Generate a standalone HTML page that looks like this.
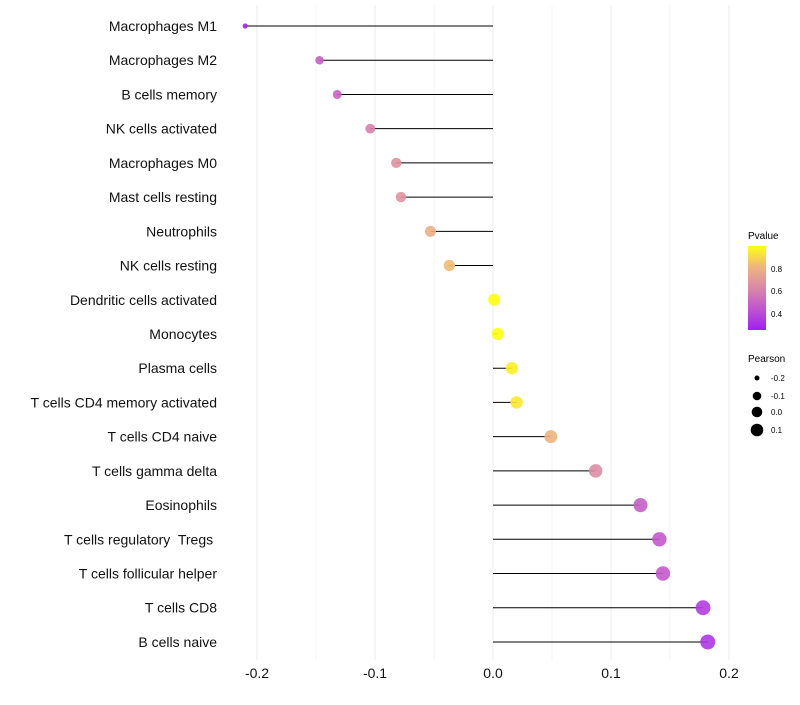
<!DOCTYPE html>
<html><head><meta charset="utf-8"><style>
body{margin:0;background:#fff;font-family:"Liberation Sans",sans-serif}
text{white-space:pre}
</style></head><body>
<svg id="chart" width="800" height="700" xmlns="http://www.w3.org/2000/svg">
<g id="grid"></g><g id="lines"></g><g id="pts"></g><g id="ylab"></g><g id="xlab"></g>
<g id="legend">
<defs><linearGradient id="pg" x1="0" y1="1" x2="0" y2="0">
<stop offset="0" stop-color="#a020f0"/><stop offset="0.25" stop-color="#c054d0"/><stop offset="0.5" stop-color="#da88a8"/><stop offset="0.75" stop-color="#eeb480"/><stop offset="1" stop-color="#ffff10"/></linearGradient></defs>
<text x="748" y="239" font-size="10">Pvalue</text>
<rect x="748" y="246" width="18" height="84" fill="url(#pg)"/>
<text x="771" y="272" font-size="8">0.8</text><text x="771" y="294" font-size="8">0.6</text><text x="771" y="317" font-size="8">0.4</text>
<text x="748" y="362" font-size="10">Pearson</text>
<circle cx="757" cy="378" r="2.5"/><circle cx="757" cy="396" r="4.3"/><circle cx="757" cy="412" r="5.3"/><circle cx="757" cy="430" r="6.3"/>
<text x="771" y="381" font-size="8">-0.2</text><text x="771" y="399" font-size="8">-0.1</text><text x="771" y="415" font-size="8">0.0</text><text x="771" y="433" font-size="8">0.1</text>
</g>
</svg>
<script>
const categories=["Macrophages M1","Macrophages M2","B cells memory","NK cells activated","Macrophages M0","Mast cells resting","Neutrophils","NK cells resting","Dendritic cells activated","Monocytes","Plasma cells","T cells CD4 memory activated","T cells CD4 naive","T cells gamma delta","Eosinophils","T cells regulatory  Tregs ","T cells follicular helper","T cells CD8","B cells naive"];
const pearson=[-0.210,-0.147,-0.132,-0.104,-0.082,-0.078,-0.053,-0.037,0.001,0.004,0.016,0.020,0.049,0.087,0.125,0.141,0.144,0.178,0.182];
const pvalue=[0.25,0.45,0.47,0.57,0.64,0.65,0.76,0.80,0.99,0.97,0.93,0.91,0.78,0.62,0.45,0.43,0.43,0.33,0.31];
const xticks=[-0.2,-0.1,0.0,0.1,0.2];
const x=v=>493+v*1180, y=i=>26+i*34.22;
const NS="http://www.w3.org/2000/svg";
function mk(t,a,p){const e=document.createElementNS(NS,t);for(const k in a)e.setAttribute(k,a[k]);document.getElementById(p).appendChild(e);return e;}
function lerp(a,b,t){return Math.round(a+(b-a)*t);}
const stops=[[0.23,[160,32,240]],[0.41,[192,84,208]],[0.60,[218,136,168]],[0.78,[238,180,128]],[0.97,[255,255,16]]];
function col(p){p=Math.max(0.23,Math.min(0.97,p));for(let i=0;i<stops.length-1;i++){const[a,c1]=stops[i],[b,c2]=stops[i+1];if(p<=b){const t=(p-a)/(b-a);return`rgb(${lerp(c1[0],c2[0],t)},${lerp(c1[1],c2[1],t)},${lerp(c1[2],c2[2],t)})`;}}return"rgb(255,255,16)";}
for(let v=-0.2;v<=0.2001;v+=0.05){const g=mk('line',{x1:x(v),x2:x(v),y1:5,y2:660,stroke:Math.abs(Math.round(v*100)%10)===5?'#f6f6f6':'#ebebeb','stroke-width':1},'grid');

}
xticks.forEach(t=>{const e=mk('text',{x:x(t),y:678,'font-size':14,'text-anchor':'middle',fill:'#111'},'xlab');e.textContent=t.toFixed(1);

});
categories.forEach((c,i)=>{
const l=mk('text',{x:217,y:y(i)+5,'font-size':14,'text-anchor':'end',fill:'#111'},'ylab');l.textContent=c;


const s=mk('line',{x1:x(0),x2:x(pearson[i]),y1:y(i),y2:y(i),stroke:'#000','stroke-width':1},'lines');


const r=2+Math.sqrt(Math.max(0,pearson[i]+0.215))*8.7;
const p=mk('circle',{cx:x(pearson[i]),cy:y(i),r:r,fill:col(pvalue[i]),'fill-opacity':0.9},'pts');


});
</script>
</body></html>
